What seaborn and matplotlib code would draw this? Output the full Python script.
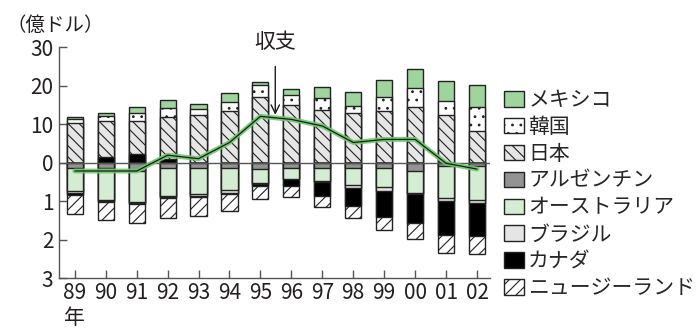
import matplotlib
matplotlib.use('Agg')
import matplotlib.pyplot as plt
from matplotlib.patches import Patch
import seaborn as sns
import pandas as pd

# 年（89〜02）
years = ['89', '90', '91', '92', '93', '94', '95', '96', '97', '98', '99', '00', '01', '02']

# 黒字側（億ドル）
canada_pos = [0, 1.5, 2.1, 1.0, 0, 0, 0, 0, 0, 0, 0, 0, 0, 0]
japan = [10.3, 9.3, 8.8, 10.9, 12.3, 13.4, 17.0, 15.0, 13.7, 12.9, 13.5, 14.4, 12.3, 8.3]
korea = [0.9, 1.4, 1.9, 2.2, 1.5, 2.4, 3.2, 2.6, 3.1, 1.7, 3.6, 5.0, 3.6, 6.1]
mexico = [0.6, 0.6, 1.7, 2.1, 1.3, 2.2, 0.7, 1.5, 2.8, 3.7, 4.3, 4.9, 5.3, 5.8]

# 赤字側（億ドル、絶対値）
argentina = [1.3, 1.3, 2.2, 1.3, 1.3, 1.4, 1.7, 1.3, 1.3, 1.3, 1.3, 2.3, 0.8, 0.8]
australia = [6.2, 8.4, 8.0, 7.5, 6.9, 5.8, 3.7, 2.9, 3.6, 4.6, 5.0, 5.6, 8.5, 8.9]
brazil = [0.5, 0.2, 0.2, 0.2, 0.4, 0.8, 0.2, 0.2, 0.2, 0.6, 1.0, 0.4, 0.6, 0.8]
canada_neg = [0.5, 0.3, 0.3, 0.3, 0.4, 0.3, 0.4, 1.8, 3.5, 4.9, 6.9, 7.4, 8.8, 8.7]
new_zealand = [5.0, 4.7, 5.0, 5.1, 4.8, 4.2, 3.5, 2.7, 3.0, 3.1, 3.3, 4.1, 4.7, 4.5]

# 収支
balance = [-2.2, -2.2, -2.2, 1.9, 1.0, 5.2, 12.0, 11.2, 9.5, 5.2, 6.0, 6.0, -0.2, -1.7]

df = pd.DataFrame({'year': years, 'canada_pos': canada_pos, 'japan': japan, 'korea': korea,
                   'mexico': mexico, 'argentina': argentina, 'australia': australia,
                   'brazil': brazil, 'canada_neg': canada_neg, 'new_zealand': new_zealand,
                   'balance': balance})

sns.set_theme(style='ticks')
plt.rcParams['font.family'] = ['Noto Sans CJK JP', 'DejaVu Sans']
plt.rcParams['hatch.linewidth'] = 0.8

FS = 15
fig = plt.figure(figsize=(6.99, 3.29), dpi=100)
ax = fig.add_axes([0.0844, 0.155, 0.6166, 0.702])

# 積み上げ（累積値を外側から順に重ねて描く）
pos_layers = [
    ('メキシコ', ['canada_pos', 'japan', 'korea', 'mexico'], '#9fd59d', ''),
    ('韓国', ['canada_pos', 'japan', 'korea'], 'white', '..'),
    ('日本', ['canada_pos', 'japan'], '#e6e6e6', '\\\\\\'),
    ('カナダ', ['canada_pos'], 'black', ''),
]
neg_layers = [
    ('ニュージーランド', ['argentina', 'australia', 'brazil', 'canada_neg', 'new_zealand'], 'white', '///'),
    ('カナダ', ['argentina', 'australia', 'brazil', 'canada_neg'], 'black', ''),
    ('ブラジル', ['argentina', 'australia', 'brazil'], '#e5e5e5', ''),
    ('オーストラリア', ['argentina', 'australia'], '#d4ecd2', ''),
    ('アルゼンチン', ['argentina'], '#939393', ''),
]

for name, cols, color, hatch in pos_layers:
    sns.barplot(x=df['year'], y=df[cols].sum(axis=1), color=color, saturation=1,
                width=0.52, edgecolor='#222222', linewidth=1, hatch=hatch,
                errorbar=None, ax=ax)
for name, cols, color, hatch in neg_layers:
    sns.barplot(x=df['year'], y=-df[cols].sum(axis=1), color=color, saturation=1,
                width=0.52, edgecolor='#222222', linewidth=1, hatch=hatch,
                errorbar=None, ax=ax)

ax.axhline(0, color='#555555', lw=1, zorder=5)

# 収支ライン
x_pos = list(range(len(years)))
sns.lineplot(x=x_pos, y=df['balance'], color='#6cc76a', lw=3.5, alpha=0.9, ax=ax, zorder=6)
sns.lineplot(x=x_pos, y=df['balance'], color='#1a1a1a', lw=0.9, ax=ax, zorder=7)

ax.annotate('収支', xy=(6.48, 12.4), xytext=(6.48, 31.2), ha='center', va='center',
            fontsize=FS, color='#231f20', annotation_clip=False,
            arrowprops=dict(arrowstyle='->', color='#1a1a1a', lw=1, shrinkA=7, shrinkB=0))

ax.set_xlim(-0.51, 13.42)
ax.set_ylim(-30, 30)
ax.set_yticks([30, 20, 10, 0, -10, -20, -30])
ax.set_yticklabels(['30', '20', '10', '0', '1', '2', '3'])
ax.set_xticks(x_pos)
ax.set_xticklabels(years)
ax.set_xlabel('')
ax.set_ylabel('')
ax.tick_params(axis='both', direction='in', length=6, width=1, color='#555555',
               labelsize=FS, labelcolor='#231f20', pad=4)
ax.tick_params(axis='x', pad=3)
sns.despine(ax=ax)
for s in ['left', 'bottom']:
    ax.spines[s].set_color('#555555')
    ax.spines[s].set_linewidth(1)

fig.text(0.01, 1 - 25 / 329, '（億ドル）', fontsize=14, va='center', ha='left', color='#231f20')
fig.text(74 / 699, 1 - 318 / 329, '年', fontsize=FS, va='center', ha='center', color='#231f20')

legend_items = [
    ('メキシコ', '#9fd59d', ''), ('韓国', 'white', '..'), ('日本', '#e6e6e6', '\\\\\\'),
    ('アルゼンチン', '#939393', ''), ('オーストラリア', '#d4ecd2', ''), ('ブラジル', '#e5e5e5', ''),
    ('カナダ', 'black', ''), ('ニュージーランド', 'white', '///'),
]
handles = [Patch(facecolor=c, edgecolor='#222222', hatch=h, lw=1) for _, c, h in legend_items]
labels = [n for n, _, _ in legend_items]
ax.legend(handles, labels, loc='upper left', bbox_to_anchor=(504 / 699, 1 - 89 / 329),
          bbox_transform=fig.transFigure, frameon=False, fontsize=FS,
          handlelength=0.96, handleheight=0.77, handletextpad=0.2, labelspacing=0.235,
          borderpad=0, borderaxespad=0)

plt.savefig('out.png', dpi=100)
